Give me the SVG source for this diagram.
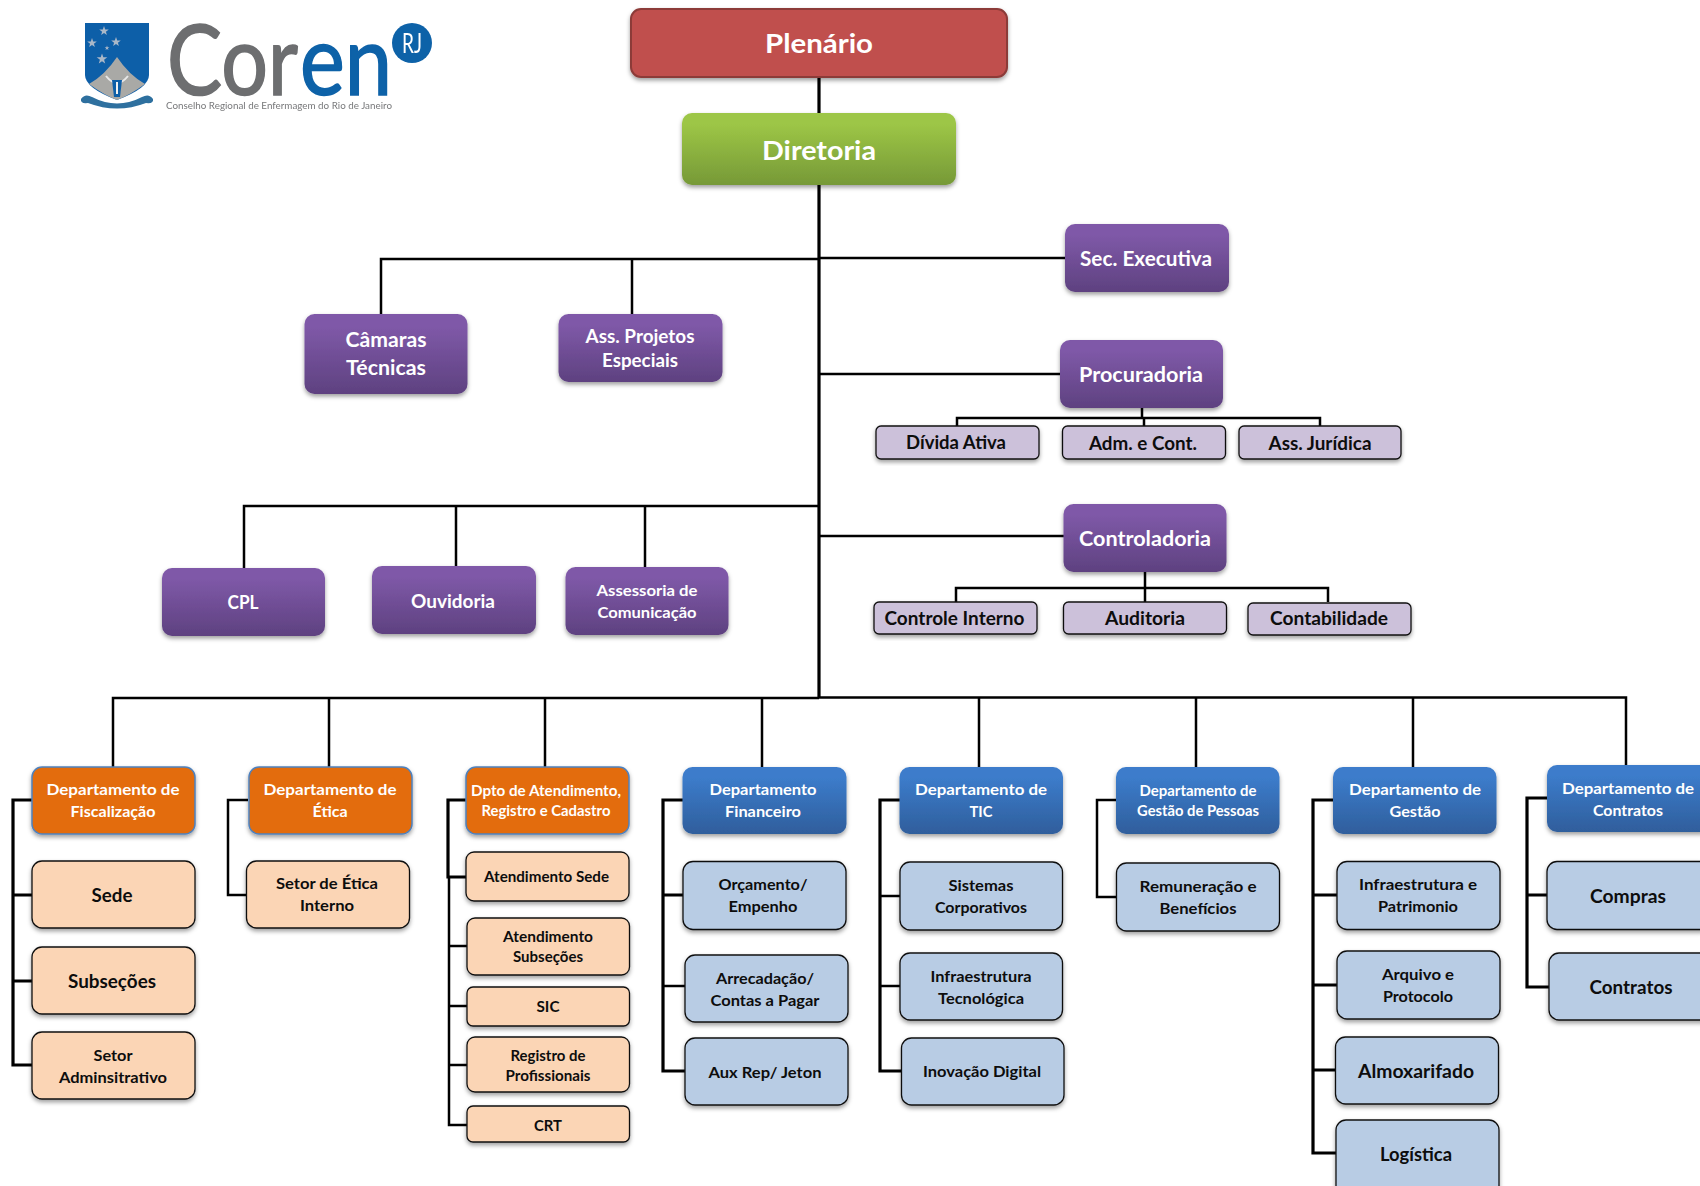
<svg xmlns="http://www.w3.org/2000/svg" width="1700" height="1186" viewBox="0 0 1700 1186">
<style>
text{font-family:"Lato","Open Sans","Liberation Sans",sans-serif;font-weight:700;text-anchor:middle}
.w{fill:#fff}.k{fill:#0d0d0d}
.s15{font-size:15px}.s16{font-size:16px}.s18{font-size:18px}.s19{font-size:19px}.s20{font-size:20px}
.line{fill:none;stroke:#000;stroke-width:2.5}
.thick{fill:none;stroke:#000;stroke-width:3.2}
rect{filter:url(#sh)}
.pl{fill:#c0504d;stroke:#8c3a38;stroke-width:2}
.di{fill:url(#gG)}.pu{fill:url(#gP)}.bl{fill:url(#gB)}
.or{fill:#e36c0a;stroke:#4f81bd;stroke-width:1.5}
.pe{fill:#fbd5b5;stroke:#111;stroke-width:1.3}
.lb{fill:#b8cce4;stroke:#111;stroke-width:1.3}
.li{fill:#ccc1da;stroke:#111;stroke-width:1.3}
.logo{font-family:"Lato","Open Sans",sans-serif;font-weight:400;text-anchor:start}
</style>
<defs>
<filter id="sh" x="-10%" y="-15%" width="120%" height="135%"><feDropShadow dx="0" dy="2.5" stdDeviation="2" flood-color="#000" flood-opacity=".38"/></filter>
<filter id="soft"><feGaussianBlur stdDeviation=".5"/></filter>
<linearGradient id="gG" x1="0" y1="0" x2="0" y2="1"><stop offset=".15" stop-color="#9dc646"/><stop offset="1" stop-color="#769937"/></linearGradient>
<linearGradient id="gP" x1="0" y1="0" x2="0" y2="1"><stop offset=".15" stop-color="#7f59a8"/><stop offset="1" stop-color="#5e4180"/></linearGradient>
<linearGradient id="gB" x1="0" y1="0" x2="0" y2="1"><stop offset=".15" stop-color="#3c7ccb"/><stop offset="1" stop-color="#2f5e9c"/></linearGradient>
<path id="star" d="M0-5 1.2-1.6 4.8-1.5 1.9.7 2.9 4.1 0 2.1-2.9 4.1-1.9.7-4.8-1.5-1.2-1.6Z" fill="#a9b8c8"/>
</defs>
<rect width="1700" height="1186" fill="#fff" style="filter:none"/>

<g id="logo" filter="url(#soft)">
<path d="M85 23H149V75Q149 88 117 100Q85 88 85 75Z" fill="#0f5ea8"/>
<path d="M89 84Q105 75 117 57Q129 75 145 84Q130 95 117 100Q104 95 89 84Z" fill="#a9a9a6"/>
<use href="#star" x="104" y="31"/><use href="#star" x="92" y="43"/><use href="#star" x="116" y="42"/><use href="#star" transform="translate(107 48) scale(.5)"/><use href="#star" transform="translate(102 59) scale(1.1)"/>
<path d="M106 76Q117 90 128 76" fill="none" stroke="#e8e8e8" stroke-width="2"/>
<path d="M112 80H122L120 97H114Z" fill="#0f5ea8"/>
<path d="M117 82V94" stroke="#f2f2f2" stroke-width="2"/>
<path d="M81 99Q85 93 92 97Q117 110 142 97Q149 93 153 99Q154 104 146 103Q117 114 88 103Q80 104 81 99Z" fill="#2d6f9f"/>
<text class="logo" x="167" y="95" style="font-size:96px;stroke:#6d6e70;stroke-width:1.6" fill="#6d6e70" textLength="131" lengthAdjust="spacingAndGlyphs">Cor</text>
<text class="logo" x="300" y="95" style="font-size:96px;stroke:#0f62a8;stroke-width:1.6" fill="#0f62a8" textLength="92" lengthAdjust="spacingAndGlyphs">en</text>
<circle cx="412" cy="43" r="20" fill="#0f62a8"/>
<text class="logo" x="402" y="53" style="font-size:27px" fill="#fff" textLength="20" lengthAdjust="spacingAndGlyphs">RJ</text>
<text class="logo" x="166" y="109" style="font-size:10px" fill="#77787a" textLength="226" lengthAdjust="spacingAndGlyphs">Conselho Regional de Enfermagem do Rio de Janeiro</text>
</g>

<g id="connectors">
<path class="thick" d="M819 77V113M819 185V698"/>
<path class="line" d="M381 314V259H819M819 258H1066M632 259V314"/>
<path class="line" d="M819 374H1060M1142 408V418M957 426V418H1320V426M1144 418V426"/>
<path class="line" d="M244 568V506H819M456 506V566M645 506V567"/>
<path class="line" d="M819 536H1064M1145 572V602M956 602V588H1328V602"/>
<path class="line" d="M113 767V698H819M819 697.5H1626V765M329 698V767M545 698V767M762 698V767M979 698V767M1196 698V767M1413 698V767"/>
<path class="thick" d="M32 800H13V1065H32M13 895H32M13 981H32"/>
<path class="line" d="M248 800H228V895H246"/>
<path class="thick" d="M466 800H448V877H466"/>
<path class="line" d="M449 877V1125H467M449 946H467M449 1006H467M449 1065H467"/>
<path class="thick" d="M683 800H663V1071H685M663 895H683"/>
<path class="line" d="M663 986H685"/>
<path class="thick" d="M900 800H880V1071H902"/>
<path class="line" d="M880 896H900M880 986H900"/>
<path class="line" d="M1117 800H1097V897H1117"/>
<path class="thick" d="M1334 800H1313V1153H1336M1313 895H1337M1313 985H1337M1313 1070H1336"/>
<path class="thick" d="M1547 798H1527V987H1549M1527 895H1547"/>
</g>

<g id="plenario"><rect class="pl" x="631" y="9" width="376" height="68" rx="10"/><text class="w" style="font-size:27px" x="819" y="53" textLength="108" lengthAdjust="spacingAndGlyphs">Plenário</text></g>
<g id="diretoria"><rect class="di" x="682" y="113" width="274" height="72" rx="10"/><text class="w" style="font-size:27px" x="819" y="160" textLength="114" lengthAdjust="spacingAndGlyphs">Diretoria</text></g>

<g id="sec-executiva"><rect class="pu" x="1065" y="224" width="164" height="68" rx="10"/><text class="w s20" x="1146" y="266" textLength="132" lengthAdjust="spacingAndGlyphs">Sec. Executiva</text></g>
<g id="camaras"><rect class="pu" x="304.500" y="314" width="163" height="80" rx="10"/><text class="w s20" x="386" y="347" textLength="81" lengthAdjust="spacingAndGlyphs">Câmaras</text><text class="w s20" x="386" y="375" textLength="80" lengthAdjust="spacingAndGlyphs">Técnicas</text></g>
<g id="ass-projetos"><rect class="pu" x="558.500" y="314" width="164" height="68" rx="10"/><text class="w s18" x="640" y="343" textLength="109" lengthAdjust="spacingAndGlyphs">Ass. Projetos</text><text class="w s18" x="640" y="367" textLength="76" lengthAdjust="spacingAndGlyphs">Especiais</text></g>
<g id="procuradoria"><rect class="pu" x="1060" y="340" width="163" height="68" rx="10"/><text class="w s20" x="1141" y="382" textLength="124" lengthAdjust="spacingAndGlyphs">Procuradoria</text></g>
<g id="divida"><rect class="li" x="876" y="426" width="163" height="33" rx="5"/><text class="k s18" x="956" y="449" textLength="100" lengthAdjust="spacingAndGlyphs">Dívida Ativa</text></g>
<g id="adm"><rect class="li" x="1062.500" y="426" width="163" height="33" rx="5"/><text class="k s18" x="1143" y="450" textLength="108" lengthAdjust="spacingAndGlyphs">Adm. e Cont.</text></g>
<g id="juridica"><rect class="li" x="1239" y="426" width="162" height="33" rx="5"/><text class="k s18" x="1320" y="450" textLength="103" lengthAdjust="spacingAndGlyphs">Ass. Jurídica</text></g>
<g id="controladoria"><rect class="pu" x="1063.500" y="504" width="163" height="68" rx="10"/><text class="w s20" x="1145" y="546" textLength="132" lengthAdjust="spacingAndGlyphs">Controladoria</text></g>
<g id="controle"><rect class="li" x="874" y="602" width="163" height="32" rx="5"/><text class="k s18" x="954.500" y="625" textLength="140" lengthAdjust="spacingAndGlyphs">Controle Interno</text></g>
<g id="auditoria"><rect class="li" x="1063.500" y="602" width="163" height="32" rx="5"/><text class="k s18" x="1145" y="625" textLength="80" lengthAdjust="spacingAndGlyphs">Auditoria</text></g>
<g id="contabilidade"><rect class="li" x="1248" y="603" width="163" height="32" rx="5"/><text class="k s18" x="1329" y="625" textLength="118" lengthAdjust="spacingAndGlyphs">Contabilidade</text></g>
<g id="cpl"><rect class="pu" x="162" y="568" width="163" height="68" rx="10"/><text class="w s18" x="243" y="609" textLength="31" lengthAdjust="spacingAndGlyphs">CPL</text></g>
<g id="ouvidoria"><rect class="pu" x="372" y="566" width="164" height="68" rx="10"/><text class="w s18" x="453" y="608" textLength="84" lengthAdjust="spacingAndGlyphs">Ouvidoria</text></g>
<g id="assessoria"><rect class="pu" x="565.500" y="567" width="163" height="68" rx="10"/><text class="w s16" x="647" y="596" textLength="101" lengthAdjust="spacingAndGlyphs">Assessoria de</text><text class="w s16" x="647" y="618" textLength="99" lengthAdjust="spacingAndGlyphs">Comunicação</text></g>

<g id="dep-fiscalizacao"><rect class="or" x="32" y="767" width="163" height="67" rx="10"/><text class="w s16" x="113" y="795" textLength="133" lengthAdjust="spacingAndGlyphs">Departamento de</text><text class="w s16" x="113" y="817" textLength="85" lengthAdjust="spacingAndGlyphs">Fiscalização</text></g>
<g id="sede"><rect class="pe" x="32" y="861" width="163" height="67" rx="10"/><text class="k s19" x="112" y="902" textLength="41" lengthAdjust="spacingAndGlyphs">Sede</text></g>
<g id="subsecoes"><rect class="pe" x="32" y="947" width="163" height="67" rx="10"/><text class="k s19" x="112" y="988" textLength="88" lengthAdjust="spacingAndGlyphs">Subseções</text></g>
<g id="setor-adm"><rect class="pe" x="32" y="1032" width="163" height="67" rx="10"/><text class="k s16" x="113" y="1061" textLength="39" lengthAdjust="spacingAndGlyphs">Setor</text><text class="k s16" x="113" y="1083" textLength="108" lengthAdjust="spacingAndGlyphs">Adminsitrativo</text></g>

<g id="dep-etica"><rect class="or" x="249" y="767" width="163" height="67" rx="10"/><text class="w s16" x="330" y="795" textLength="133" lengthAdjust="spacingAndGlyphs">Departamento de</text><text class="w s16" x="330" y="817" textLength="35" lengthAdjust="spacingAndGlyphs">Ética</text></g>
<g id="setor-etica"><rect class="pe" x="246.500" y="861" width="163" height="67" rx="10"/><text class="k s16" x="327" y="889" textLength="102" lengthAdjust="spacingAndGlyphs">Setor de Ética</text><text class="k s16" x="327" y="911" textLength="54" lengthAdjust="spacingAndGlyphs">Interno</text></g>

<g id="dpto-atendimento"><rect class="or" x="466" y="767" width="163" height="67" rx="10"/><text class="w s15" x="546" y="796" textLength="150" lengthAdjust="spacingAndGlyphs">Dpto de Atendimento,</text><text class="w s15" x="546" y="816" textLength="129" lengthAdjust="spacingAndGlyphs">Registro e Cadastro</text></g>
<g id="atend-sede"><rect class="pe" x="466" y="852" width="163" height="49" rx="8"/><text class="k s15" x="546.500" y="882" textLength="125" lengthAdjust="spacingAndGlyphs">Atendimento Sede</text></g>
<g id="atend-sub"><rect class="pe" x="467" y="918" width="162.500" height="57" rx="8"/><text class="k s15" x="548" y="942" textLength="90" lengthAdjust="spacingAndGlyphs">Atendimento</text><text class="k s15" x="548" y="962" textLength="70" lengthAdjust="spacingAndGlyphs">Subseções</text></g>
<g id="sic"><rect class="pe" x="467" y="987" width="162.500" height="39" rx="6"/><text class="k s15" x="548" y="1012" textLength="23" lengthAdjust="spacingAndGlyphs">SIC</text></g>
<g id="registro"><rect class="pe" x="467" y="1037" width="162.500" height="55" rx="8"/><text class="k s15" x="548" y="1061" textLength="75" lengthAdjust="spacingAndGlyphs">Registro de</text><text class="k s15" x="548" y="1081" textLength="85" lengthAdjust="spacingAndGlyphs">Profissionais</text></g>
<g id="crt"><rect class="pe" x="467" y="1106" width="162.500" height="36" rx="6"/><text class="k s15" x="548" y="1131" textLength="28" lengthAdjust="spacingAndGlyphs">CRT</text></g>

<g id="dep-financeiro"><rect class="bl" x="682.500" y="767" width="164" height="67" rx="10"/><text class="w s16" x="763" y="795" textLength="107" lengthAdjust="spacingAndGlyphs">Departamento</text><text class="w s16" x="763" y="817" textLength="76" lengthAdjust="spacingAndGlyphs">Financeiro</text></g>
<g id="orcamento"><rect class="lb" x="683" y="861.500" width="163" height="68" rx="10"/><text class="k s16" x="763" y="890" textLength="89" lengthAdjust="spacingAndGlyphs">Orçamento/</text><text class="k s16" x="763" y="912" textLength="69" lengthAdjust="spacingAndGlyphs">Empenho</text></g>
<g id="arrecadacao"><rect class="lb" x="685" y="955" width="163" height="67" rx="10"/><text class="k s16" x="765" y="984" textLength="98" lengthAdjust="spacingAndGlyphs">Arrecadação/</text><text class="k s16" x="765" y="1006" textLength="109" lengthAdjust="spacingAndGlyphs">Contas a Pagar</text></g>
<g id="aux"><rect class="lb" x="685" y="1038" width="163" height="67" rx="10"/><text class="k s16" x="765" y="1078" textLength="113" lengthAdjust="spacingAndGlyphs">Aux Rep/ Jeton</text></g>

<g id="dep-tic"><rect class="bl" x="899.500" y="767" width="163.500" height="67" rx="10"/><text class="w s16" x="981" y="795" textLength="132" lengthAdjust="spacingAndGlyphs">Departamento de</text><text class="w s16" x="981" y="817" textLength="23" lengthAdjust="spacingAndGlyphs">TIC</text></g>
<g id="sistemas"><rect class="lb" x="900" y="862" width="162.500" height="68" rx="10"/><text class="k s16" x="981" y="891" textLength="65" lengthAdjust="spacingAndGlyphs">Sistemas</text><text class="k s16" x="981" y="913" textLength="92" lengthAdjust="spacingAndGlyphs">Corporativos</text></g>
<g id="infra-tec"><rect class="lb" x="900" y="953" width="162.500" height="67" rx="10"/><text class="k s16" x="981" y="982" textLength="101" lengthAdjust="spacingAndGlyphs">Infraestrutura</text><text class="k s16" x="981" y="1004" textLength="86" lengthAdjust="spacingAndGlyphs">Tecnológica</text></g>
<g id="inovacao"><rect class="lb" x="901.500" y="1038" width="162.500" height="67" rx="10"/><text class="k s16" x="982" y="1077" textLength="118" lengthAdjust="spacingAndGlyphs">Inovação Digital</text></g>

<g id="dep-pessoas"><rect class="bl" x="1116" y="767" width="163.500" height="67" rx="10"/><text class="w s15" x="1198" y="796" textLength="117" lengthAdjust="spacingAndGlyphs">Departamento de</text><text class="w s15" x="1198" y="816" textLength="122" lengthAdjust="spacingAndGlyphs">Gestão de Pessoas</text></g>
<g id="remuneracao"><rect class="lb" x="1116.500" y="863" width="163" height="68" rx="10"/><text class="k s16" x="1198" y="892" textLength="117" lengthAdjust="spacingAndGlyphs">Remuneração e</text><text class="k s16" x="1198" y="914" textLength="77" lengthAdjust="spacingAndGlyphs">Benefícios</text></g>

<g id="dep-gestao"><rect class="bl" x="1333" y="767" width="163.500" height="67" rx="10"/><text class="w s16" x="1415" y="795" textLength="132" lengthAdjust="spacingAndGlyphs">Departamento de</text><text class="w s16" x="1415" y="817" textLength="51" lengthAdjust="spacingAndGlyphs">Gestão</text></g>
<g id="infra-pat"><rect class="lb" x="1337" y="861.500" width="163" height="68" rx="10"/><text class="k s15" x="1418" y="890" textLength="118" lengthAdjust="spacingAndGlyphs">Infraestrutura e</text><text class="k s15" x="1418" y="912" textLength="80" lengthAdjust="spacingAndGlyphs">Patrimonio</text></g>
<g id="arquivo"><rect class="lb" x="1337" y="951" width="163" height="68" rx="10"/><text class="k s15" x="1418" y="980" textLength="72" lengthAdjust="spacingAndGlyphs">Arquivo e</text><text class="k s15" x="1418" y="1002" textLength="70" lengthAdjust="spacingAndGlyphs">Protocolo</text></g>
<g id="almoxarifado"><rect class="lb" x="1335.500" y="1037" width="163" height="67" rx="10"/><text class="k s19" x="1416" y="1078" textLength="116" lengthAdjust="spacingAndGlyphs">Almoxarifado</text></g>
<g id="logistica"><rect class="lb" x="1336" y="1120" width="163" height="78" rx="10"/><text class="k s18" x="1416" y="1161" textLength="72" lengthAdjust="spacingAndGlyphs">Logística</text></g>

<g id="dep-contratos"><rect class="bl" x="1547" y="765" width="164" height="67" rx="10"/><text class="w s16" x="1628" y="794" textLength="132" lengthAdjust="spacingAndGlyphs">Departamento de</text><text class="w s16" x="1628" y="816" textLength="70" lengthAdjust="spacingAndGlyphs">Contratos</text></g>
<g id="compras"><rect class="lb" x="1547" y="861.500" width="164" height="68" rx="10"/><text class="k s18" x="1628" y="903" textLength="76" lengthAdjust="spacingAndGlyphs">Compras</text></g>
<g id="contratos"><rect class="lb" x="1549" y="953" width="164" height="67" rx="10"/><text class="k s18" x="1631" y="994" textLength="83" lengthAdjust="spacingAndGlyphs">Contratos</text></g>
</svg>
